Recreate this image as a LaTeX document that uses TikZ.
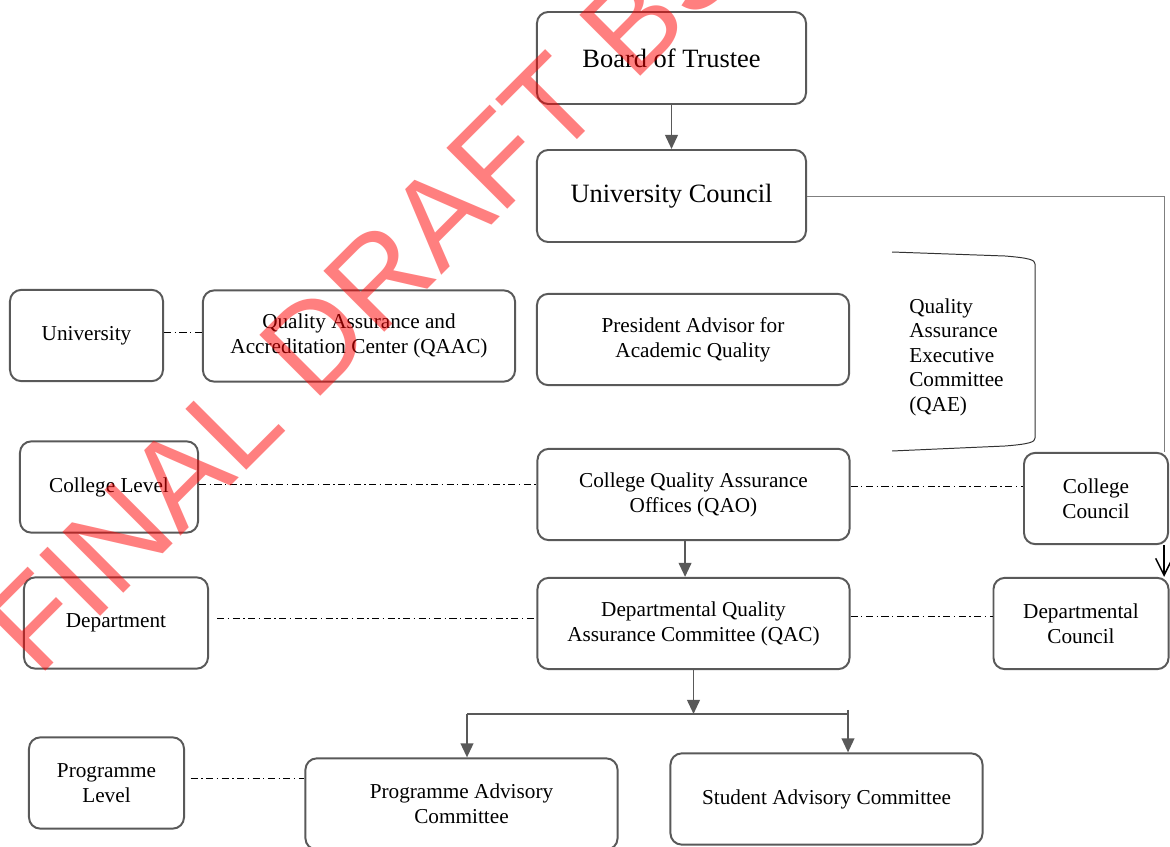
\documentclass[tikz,border=0pt]{standalone}
\usepackage{fontspec}
\setmainfont{Liberation Serif}
\newfontfamily\wmfont{Liberation Sans}
\usetikzlibrary{arrows.meta}

\definecolor{boxgray}{HTML}{595959}
\definecolor{linegray}{HTML}{7F7F7F}
\newcommand{\boxbigfont}{\fontsize{18.8}{22}\selectfont}
\newcommand{\boxsmallfont}{\fontsize{15.1}{17.8}\selectfont}

\tikzstyle{bigbox} = [rectangle, rounded corners=8pt, minimum width=6.725cm, minimum height=2.3cm, align=center, draw=boxgray, line width=1.4pt, font=\boxbigfont]
\tikzstyle{unit} = [rectangle, rounded corners=8pt, minimum width=7.8cm, minimum height=2.28cm, align=center, draw=boxgray, line width=1.4pt, font=\boxsmallfont]
\tikzstyle{level} = [unit, minimum width=3.8cm]
\tikzstyle{arrow} = [line width=1.4pt, draw=boxgray, ->, >={Triangle[length=10pt,width=9pt]}]
\tikzstyle{levelline} = [line width=0.6pt, dash pattern=on 5pt off 2.5pt on 1pt off 2.5pt]
\tikzstyle{watermark} = [rotate=45, anchor=base west, inner sep=0pt, text=red, text opacity=0.5, font=\wmfont\fontsize{89}{96}\selectfont]

\begin{document}
\begin{tikzpicture}[x=0.025cm, y=-0.025cm]
\useasboundingbox (0,0) rectangle (1170,847);

% top of the structure
\node (board) [bigbox] at (671.5,58) {Board of Trustee};
\node (council) [bigbox] at (671.5,196) {University Council};

% university level
\node (univ) [level, minimum width=3.825cm] at (86.5,335.5) {University};
\node (qaac) [unit] at (359,336) {Quality Assurance and\\Accreditation Center (QAAC)};
\node (advisor) [unit] at (693,339.5) {President Advisor for\\Academic Quality};
\node (qae) [anchor=west, align=left, inner sep=0pt, font=\fontsize{15.1}{17.4}\selectfont] at (909,357) {Quality\\Assurance\\Executive\\Committee\\(QAE)};

% college level
\node (clevel) [level, minimum width=4.45cm] at (109,487) {College Level};
\node (qao) [unit] at (693.5,494.5) {College Quality Assurance\\Offices (QAO)};
\node (ccouncil) [level, minimum width=3.6cm] at (1096,498.5) {College\\Council};

% department level
\node (dept) [level, minimum width=4.6cm] at (116,623) {Department};
\node (qac) [unit] at (693.5,623.5) {Departmental Quality\\Assurance Committee (QAC)};
\node (dcouncil) [level, minimum width=4.375cm] at (1081,623.5) {Departmental\\Council};

% programme level
\node (plevel) [level, minimum width=3.875cm] at (106.5,783) {Programme\\Level};
\node (pac) [unit] at (461.5,804) {Programme Advisory\\Committee};
\node (sac) [unit] at (826.5,799) {Student Advisory Committee};

\coordinate (branch) at (693.5,714);
\coordinate (bl) at (467,714);
\coordinate (br) at (848,714);

% QAE bracket
\draw [line width=0.7pt, draw=black!80] (892,252) -- (1005,256) .. controls (1030,258) and (1035,260) .. (1035,264) -- (1035,438) .. controls (1035,442) and (1030,444) .. (1005,446) -- (892,451);

% connectors
\draw [arrow] (board) -- (council);
\draw [line width=0.7pt, draw=linegray] (council.east) -| ([xshift=-3pt]ccouncil.north east);
\draw [line width=1.1pt, ->, >={Straight Barb[length=12pt,width=12pt]}] ([xshift=-3.5pt]ccouncil.south east) -- ([xshift=-3.5pt]ccouncil.south east |- dcouncil.north);
\draw [arrow] ([xshift=-6pt]qao.south) -- ([xshift=-6pt]qao.south |- qac.north);
\draw [arrow] (qac.south) -- (branch);
\draw [line width=1pt, draw=boxgray] (bl) -- (br);
\draw [arrow] (bl) -- (bl |- pac.north);
\draw [arrow] ([yshift=3pt]br) -- (br |- sac.north);

\draw [levelline] ([yshift=2pt]univ.east) -- ([yshift=2pt]univ.east -| qaac.west);
\draw [levelline] ([yshift=2pt]clevel.east) -- ([yshift=2pt]clevel.east -| qao.west);
\draw [levelline] ([yshift=6pt]qao.east) -- ([yshift=6pt]qao.east -| ccouncil.west);
\draw [levelline] ([xshift=6pt,yshift=3pt]dept.east) -- ([yshift=3pt]dept.east -| qac.west);
\draw [levelline] ([yshift=5pt]qac.east) -- ([yshift=5pt]qac.east -| dcouncil.west);
\draw [levelline] ([xshift=4pt,yshift=3.5pt]plevel.east) -- ([yshift=3.5pt]plevel.east -| pac.west);

% watermark
\node (wm) [watermark] at (38,679) {FINAL DRAFT BS};

\end{tikzpicture}
\end{document}
